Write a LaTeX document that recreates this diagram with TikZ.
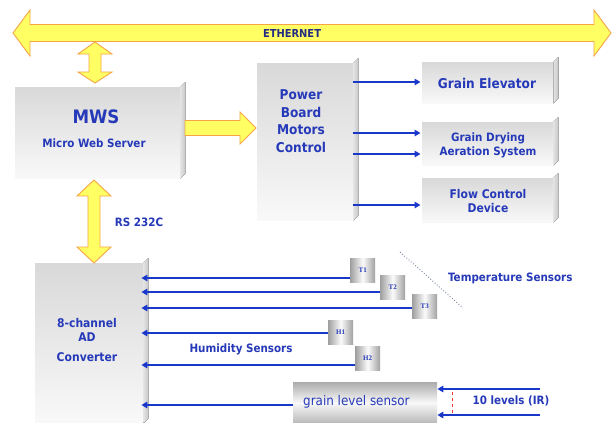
\documentclass[tikz,border=0pt]{standalone}
\usepackage{fontspec}
\setmainfont{DejaVu Sans Condensed}
\newfontfamily\serifb{Liberation Serif}
\usetikzlibrary{calc,arrows.meta}
\definecolor{tblue}{RGB}{38,58,185}
\definecolor{ablue}{RGB}{25,55,200}
\definecolor{navy}{RGB}{35,45,130}
\definecolor{yfill}{RGB}{255,255,100}
\definecolor{yedge}{RGB}{245,165,70}
\definecolor{dotg}{RGB}{120,130,160}
\newcommand\fs[2]{\fontsize{#1}{#2}\selectfont}
\newcommand\bevelof[1]{\fill[bevel] (#1.north east) -- ++(5,-5) -- ($(#1.south east)+(5,-5)$) -- (#1.south east) -- cycle;}
\begin{document}
\begin{tikzpicture}[x=1pt,y=-1pt,
  box/.style={anchor=north west, inner sep=0pt, top color=gray!30, bottom color=gray!5},
  sensor/.style={anchor=north west, inner sep=0pt, minimum width=25pt, minimum height=24pt,
    left color=gray!75, right color=gray!75, middle color=gray!3, text=tblue,
    font=\serifb\bfseries\fs{7}{8}},
  txt/.style={text=tblue, font=\bfseries\fs{11.5}{14}, align=center, inner sep=0pt},
  barrow/.style={draw=ablue, line width=2.2pt, -{Triangle[length=6pt,width=6.5pt]}},
  yarrow/.style={fill=yfill, draw=yedge, line width=0.9pt, line join=miter},
  bevel/.style={left color=gray!22, right color=gray!45}
]
\useasboundingbox (0,0) rectangle (614,423);
\fill[white] (0,0) rectangle (614,423);

% boxes
\node[box, minimum width=165pt, minimum height=91pt] (mws) at (15,87) {};
\node[box, minimum width=96pt, minimum height=157pt] (power) at (257,63) {};
\node[box, minimum width=131pt, minimum height=41pt] (elev) at (422,62) {};
\node[box, minimum width=131pt, minimum height=43pt] (dry) at (422,122) {};
\node[box, minimum width=131pt, minimum height=44pt] (flow) at (422,178) {};
\node[box, minimum width=108pt, minimum height=160pt] (ad) at (35,263) {};
\foreach \b in {mws,power,elev,dry,flow,ad} {\bevelof{\b}}

% sensors
\node[sensor] (T1) at (350,258) {T1};
\node[sensor] (T2) at (380,275) {T2};
\node[sensor] (T3) at (412,294) {T3};
\node[sensor] (H1) at (328,320) {H1};
\node[sensor] (H2) at (355,346) {H2};
\node[anchor=north west, inner sep=0pt, minimum width=144pt, minimum height=41pt,
  top color=gray!65, bottom color=gray!55, middle color=gray!5] (gls) at (293,382) {};

% yellow arrows
\filldraw[yarrow] (13,33) -- (30,10) -- (30,24.5) -- (594,24.5) -- (594,10) -- (611,33)
  -- (594,56) -- (594,41.5) -- (30,41.5) -- (30,56) -- cycle;
\filldraw[yarrow] (95,42) -- (112,54) -- (101,54) -- (101,72) -- (112,72) -- (95,83)
  -- (78,72) -- (89,72) -- (89,54) -- (78,54) -- cycle;
\filldraw[yarrow] (185,120.5) -- (240,120.5) -- (240,112) -- (256,128) -- (240,144)
  -- (240,135.5) -- (185,135.5) -- cycle;
\filldraw[yarrow] (94,180) -- (111,196) -- (100,196) -- (100,247) -- (111,247) -- (94,263)
  -- (77,247) -- (88,247) -- (88,196) -- (77,196) -- cycle;

% texts
\node[font=\bfseries\fs{11}{13}, text=navy] (ethT) at (292,33) {ETHERNET};
\node[txt, font=\bfseries\fs{18.5}{20}] (mwsT) at (96,117) {MWS};
\node[txt] (mwsS) at (94,143) {Micro Web Server};
\node[txt, font=\bfseries\fs{13.5}{17.5}] (powT) at (301,121) {Power\\Board\\Motors\\Control};
\node[txt, font=\bfseries\fs{13.5}{16}] (elevT) at (487,83) {Grain Elevator};
\node[txt] (dryT) at (488,145) {Grain Drying\\Aeration System};
\node[txt, font=\bfseries\fs{12}{13.5}] (flowT) at (488,201) {Flow Control\\Device};
\node[txt] (rsT) at (139,222) {RS 232C};
\node[txt, font=\bfseries\fs{12}{14}] (adT) at (87,340) {8-channel\\AD\\[6pt]Converter};
\node[txt, anchor=west] (tempT) at (448,278) {Temperature Sensors};
\node[txt] (humT) at (241,349) {Humidity Sensors};
\node[txt] (irT) at (511,401) {10 levels (IR)};
\node[text=tblue, font=\fs{13.3}{15}, anchor=west, inner sep=0pt] (glsT) at (303,402) {grain level sensor};

% blue connectors
\foreach \t/\y in {elev/82,dry/133,dry/154,flow/205}
  \draw[barrow, shorten >=1.5pt] (power.east |- 0,\y) -- (\t.west |- 0,\y);
\foreach \s/\y in {T1/278,T2/292,T3/308,H1/333,H2/365,gls/405}
  \draw[barrow, shorten >=-2pt] (\s.west |- 0,\y) -- (ad.east |- 0,\y);
\coordinate (ir1) at (540,389);
\coordinate (ir2) at (540,415);
\draw[barrow] (ir1) -- (gls.east |- ir1);
\draw[barrow] (ir2) -- (gls.east |- ir2);
\draw[red!80, dashed, line width=0.6pt] (452,392) -- (452,413);
\draw[dotg, dotted, line width=0.9pt] (400,252) -- (463,308);
\end{tikzpicture}
\end{document}
